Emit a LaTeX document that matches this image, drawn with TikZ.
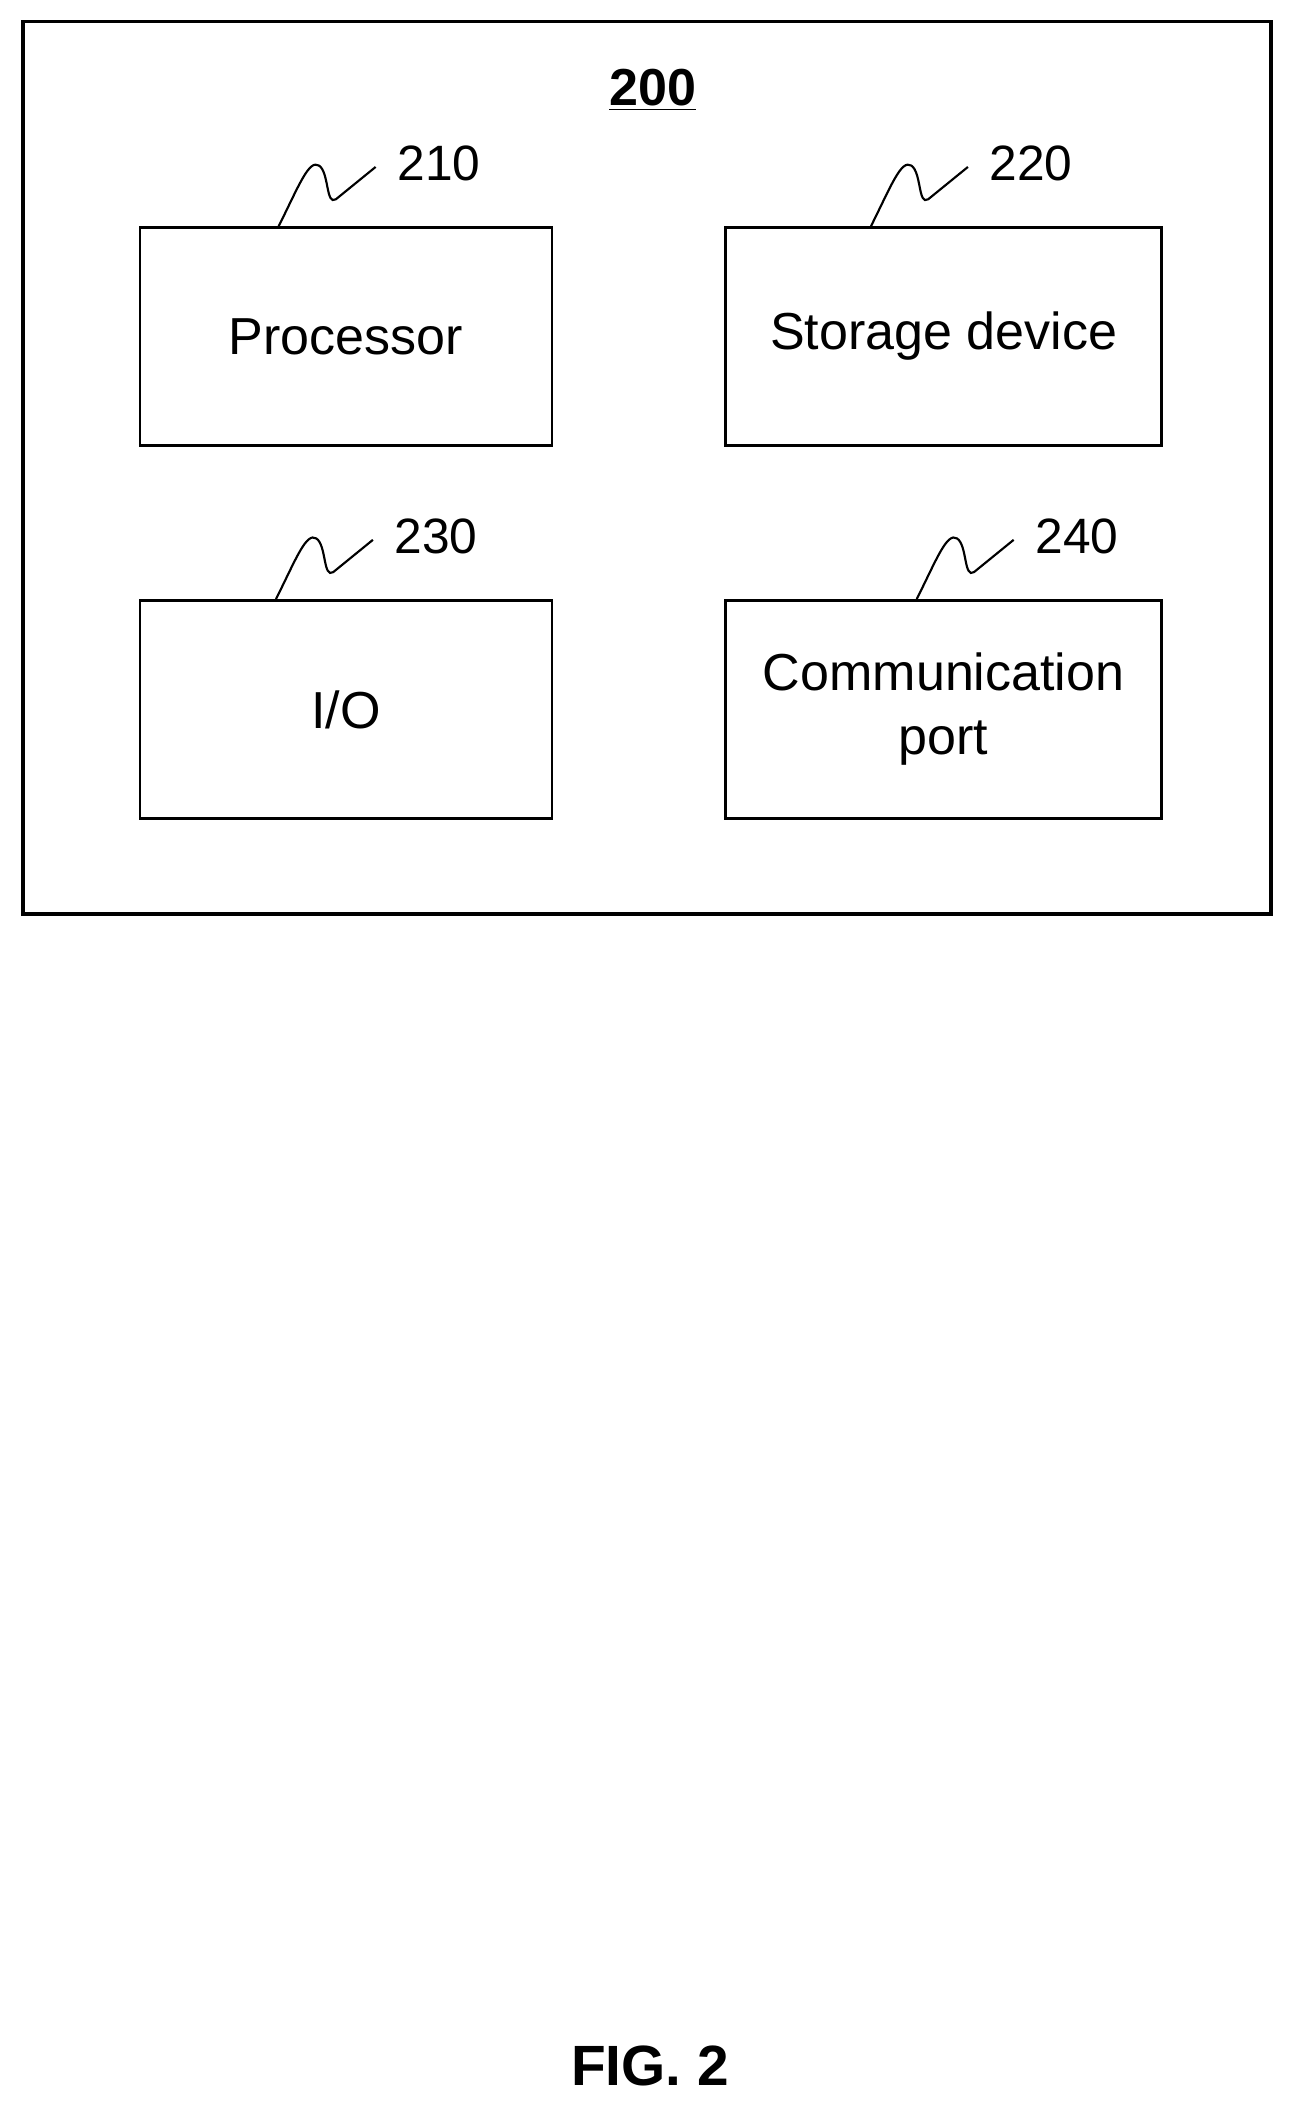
\documentclass[tikz,border=0pt]{standalone}
\usepackage{fontspec}
\setmainfont{Liberation Sans}
\usetikzlibrary{positioning}
\begin{document}
\begin{tikzpicture}
        \tikzstyle{unit}=[line width=1.1pt, rectangle, draw, minimum height=3.24cm, align=center, font=\fontsize{22}{27}\selectfont]
        \tikzstyle{refnum}=[anchor=west, font=\fontsize{21}{25}\selectfont]
        \useasboundingbox (0, 0) rectangle (19.2, -31.32);
        \draw[line width=1.6pt] (0.34, -0.32) rectangle (18.88, -13.58);
        \node[font=\fontsize{22}{26}\selectfont\bfseries] (title) at (9.7, -1.34) {\underline{200}};

        \node[unit, minimum width=6.12cm] (processor) at (5.14, -5.0) {Processor};
        \node[unit, minimum width=6.48cm] (storage) at (14.02, -5.0) {Storage device};
        \node[unit, minimum width=6.12cm] (io) at (5.14, -10.54) {I/O};
        \node[unit, minimum width=6.48cm] (comm) at (14.02, -10.54) {Communication\\port};

        % reference squiggles
        \foreach \blk/\dx/\num in {processor/2.08/210, storage/2.18/220, io/2.04/230, comm/2.86/240} {
            \draw[line width=0.9pt] ([xshift=\dx cm]\blk.north west) coordinate (\blk-s)
                .. controls +(0.3,0.6) and +(-0.15,0.1) .. ++(0.6,0.9)
                .. controls +(0.15,-0.1) and +(-0.15,-0.1) .. ++(0.25,-0.5)
                -- ++(0.59,0.48) coordinate (\blk-e);
            \node[refnum] (\blk-num) at ([xshift=0.2cm, yshift=0.05cm]\blk-e) {\num};
        }

        \node[font=\fontsize{24}{28}\selectfont\bfseries] (fig) at (9.66, -30.7) {FIG. 2};
    \end{tikzpicture}
\end{document}
